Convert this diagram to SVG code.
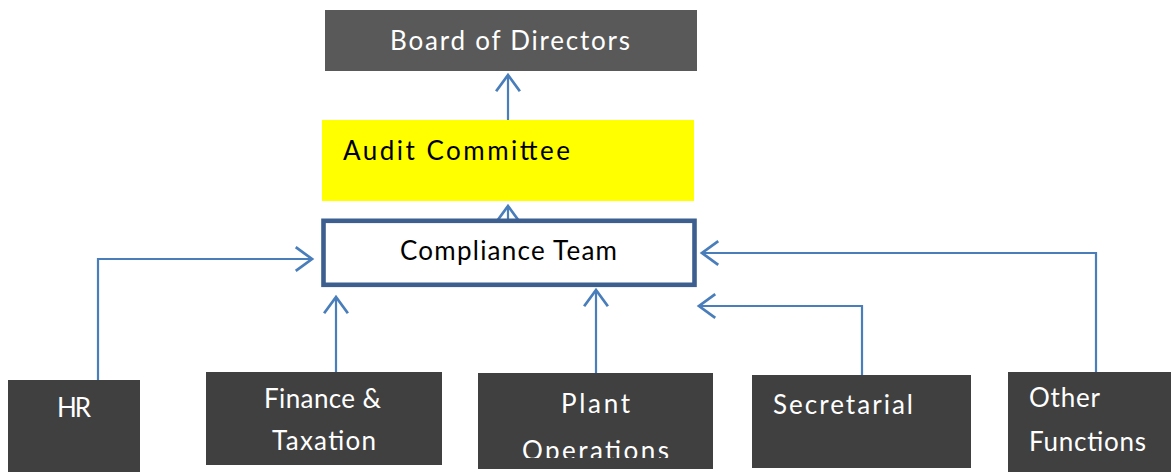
<svg xmlns="http://www.w3.org/2000/svg" width="1171" height="472" viewBox="0 0 1171 472">
<style>
.dark{fill:#404040}
.t{font-family:Lato,"Open Sans","Liberation Sans",sans-serif;font-size:26px}
.w{fill:#ffffff}
.b{fill:#000000}
.c{fill:none;stroke:#4a7ebb;stroke-width:2.2}
</style>
<defs>
<marker id="ah" markerUnits="userSpaceOnUse" markerWidth="30" markerHeight="30" viewBox="-16 -12 20 24" refX="0" refY="0" orient="auto">
<path d="M-13,-9.5 L0,0 L-13,9.5" fill="none" stroke="#4a7ebb" stroke-width="2.2"/>
</marker>
<clipPath id="clipPlant"><rect x="478" y="373" width="235" height="85"/></clipPath>
</defs>
<rect width="1171" height="472" fill="#ffffff"/>
<g id="connectors">
<path class="c" d="M508,120 L508,75" marker-end="url(#ah)"/>
<path class="c" d="M508,219 L508,206" marker-end="url(#ah)"/>
<path class="c" d="M98,380 L98,259 L312,259" marker-end="url(#ah)"/>
<path class="c" d="M336,380 L336,297" marker-end="url(#ah)"/>
<path class="c" d="M596,373 L596,290" marker-end="url(#ah)"/>
<path class="c" d="M862,375 L862,306 L699,306" marker-end="url(#ah)"/>
<path class="c" d="M1096,372 L1096,253 L702,253" marker-end="url(#ah)"/>
</g>
<g id="board">
<rect x="325" y="10" width="372" height="61" fill="#595959"/>
<text class="t w" x="390" y="50" font-size="30.5" textLength="240">Board of Directors</text>
</g>
<g id="audit">
<rect x="322" y="120" width="372" height="81" fill="#ffff00"/>
<text class="t b" x="343" y="160" font-size="30.5" textLength="227">Audit Committee</text>
</g>
<g id="compliance">
<rect x="323.5" y="220.8" width="371" height="64" fill="#ffffff" stroke="#3c5f8f" stroke-width="4.6"/>
<text class="t b" x="400" y="260" font-size="27" textLength="217">Compliance Team</text>
</g>
<g id="hr">
<rect class="dark" x="8" y="380" width="132" height="92"/>
<text class="t w" x="57" y="417" textLength="34">HR</text>
</g>
<g id="finance">
<rect class="dark" x="206" y="372" width="236" height="93"/>
<text class="t w" x="264" y="408" textLength="117">Finance &amp;</text>
<text class="t w" x="272" y="450" textLength="104">Taxation</text>
</g>
<g id="plant">
<rect class="dark" x="478" y="373" width="235" height="96"/>
<g clip-path="url(#clipPlant)">
<text class="t w" x="561" y="413" font-size="29" textLength="69">Plant</text>
<text class="t w" x="522" y="460" font-size="29" textLength="147">Operations</text>
</g>
</g>
<g id="secretarial">
<rect class="dark" x="752" y="375" width="219" height="93"/>
<text class="t w" x="773" y="414" font-size="29.5" textLength="140">Secretarial</text>
</g>
<g id="other">
<rect class="dark" x="1008" y="372" width="163" height="100"/>
<text class="t w" x="1029" y="407" textLength="71">Other</text>
<text class="t w" x="1029" y="451" textLength="117">Functions</text>
</g>
</svg>
